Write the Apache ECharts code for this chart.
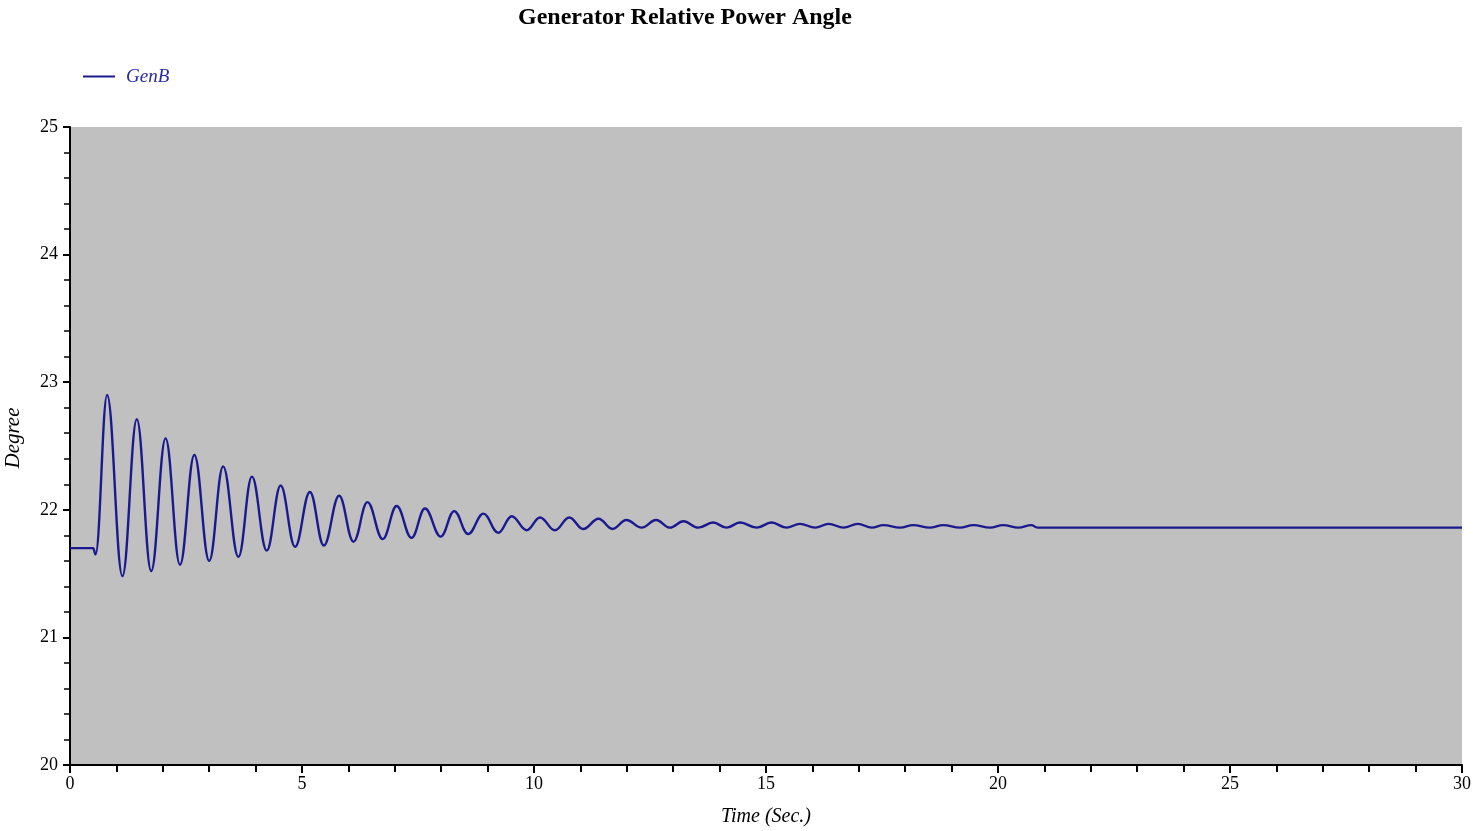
<!DOCTYPE html>
<html>
<head>
<meta charset="utf-8">
<script src="https://cdn.jsdelivr.net/npm/echarts@6/dist/echarts.min.js"></script>
<style>
  html, body { margin: 0; padding: 0; background: #fff; }
  #chart { width: 1473px; height: 831px; }
</style>
</head>
<body>
<div id="chart"></div>
<script>
// 曲线数据：各个波峰/波谷 (时间 秒, 角度 度)
const timeSec = [
  0, 0.50, 0.55, 0.80, 1.13, 1.44, 1.75, 2.06, 2.37, 2.68, 3.00, 3.30, 3.63, 3.92, 4.24,
  4.54, 4.85, 5.17, 5.47, 5.80, 6.11, 6.41, 6.74, 7.04, 7.36, 7.65, 7.99, 8.28, 8.58,
  8.91, 9.23, 9.52, 9.84, 10.13, 10.45, 10.76, 11.06, 11.39, 11.69, 11.99, 12.32, 12.63,
  12.93, 13.22, 13.54, 13.86, 14.15, 14.44, 14.80, 15.12, 15.44, 15.73, 16.06, 16.35,
  16.67, 16.98, 17.28, 17.53, 17.89, 18.17, 18.53, 18.82, 19.18, 19.47, 19.83, 20.11,
  20.44, 20.72, 20.85, 30
];
const genB = [
  21.70, 21.70, 21.65, 22.90, 21.48, 22.71, 21.52, 22.56, 21.57, 22.43, 21.60, 22.34, 21.63, 22.26, 21.68,
  22.19, 21.71, 22.14, 21.72, 22.11, 21.75, 22.06, 21.77, 22.03, 21.78, 22.01, 21.79, 21.99, 21.81,
  21.97, 21.82, 21.95, 21.84, 21.94, 21.84, 21.94, 21.85, 21.93, 21.85, 21.92, 21.86, 21.92,
  21.86, 21.91, 21.86, 21.90, 21.86, 21.90, 21.86, 21.90, 21.86, 21.89, 21.86, 21.89,
  21.86, 21.89, 21.86, 21.88, 21.86, 21.88, 21.86, 21.88, 21.86, 21.88, 21.86, 21.88,
  21.86, 21.88, 21.86, 21.86
];
const seriesName = 'GenB';

const chart = echarts.init(document.getElementById('chart'));
const serif = '"Liberation Serif", "DejaVu Serif", serif';
const lineColor = '#1a1a8e';

chart.setOption({
  animation: false,
  title: {
    text: 'Generator Relative Power Angle',
    left: 513,
    top: 1,
    textStyle: { fontFamily: serif, fontSize: 24, fontWeight: 'bold', color: '#000' }
  },
  legend: {
    left: 78,
    top: 62,
    icon: 'rect',
    itemWidth: 32,
    itemHeight: 2,
    itemGap: 10,
    data: [seriesName],
    textStyle: { fontFamily: serif, fontStyle: 'italic', fontSize: 19, color: '#2a2aa8', padding: [0, 0, 0, 6] }
  },
  grid: {
    left: 70, right: 11, top: 127, bottom: 66,
    outerBoundsMode: 'none', containLabel: false,
    show: true, backgroundColor: '#c0c0c0', borderWidth: 0
  },
  xAxis: {
    type: 'value',
    min: 0, max: 30, interval: 5,
    name: 'Time (Sec.)',
    nameLocation: 'middle',
    nameGap: 42,
    nameTextStyle: { fontFamily: serif, fontStyle: 'italic', fontSize: 20, color: '#000' },
    axisLine: { show: true, lineStyle: { color: '#000', width: 2 } },
    axisTick: { show: true, length: 8, lineStyle: { color: '#000', width: 2 } },
    minorTick: { show: true, splitNumber: 5, length: 7, lineStyle: { color: '#000', width: 2 } },
    axisLabel: { fontFamily: serif, fontSize: 18, color: '#000', margin: 10 },
    splitLine: { show: false }
  },
  yAxis: {
    type: 'value',
    min: 20, max: 25, interval: 1,
    name: 'Degree',
    nameLocation: 'middle',
    nameGap: 46,
    nameTextStyle: { fontFamily: serif, fontStyle: 'italic', fontSize: 21, color: '#000', padding: [0, 0, 0, 16] },
    axisLine: { show: true, lineStyle: { color: '#000', width: 2 } },
    axisTick: { show: true, length: 7, lineStyle: { color: '#000', width: 2 } },
    minorTick: { show: true, splitNumber: 5, length: 6, lineStyle: { color: '#000', width: 1.5 } },
    axisLabel: { fontFamily: serif, fontSize: 18, color: '#000', margin: 12 },
    splitLine: { show: false }
  },
  series: [{
    name: seriesName,
    type: 'line',
    data: timeSec.map((t, i) => [t, genB[i]]),
    showSymbol: false,
    smooth: 0.4,
    smoothMonotone: 'x',
    lineStyle: { color: lineColor, width: 2.4 },
    itemStyle: { color: lineColor }
  }]
});
</script>
</body>
</html>
